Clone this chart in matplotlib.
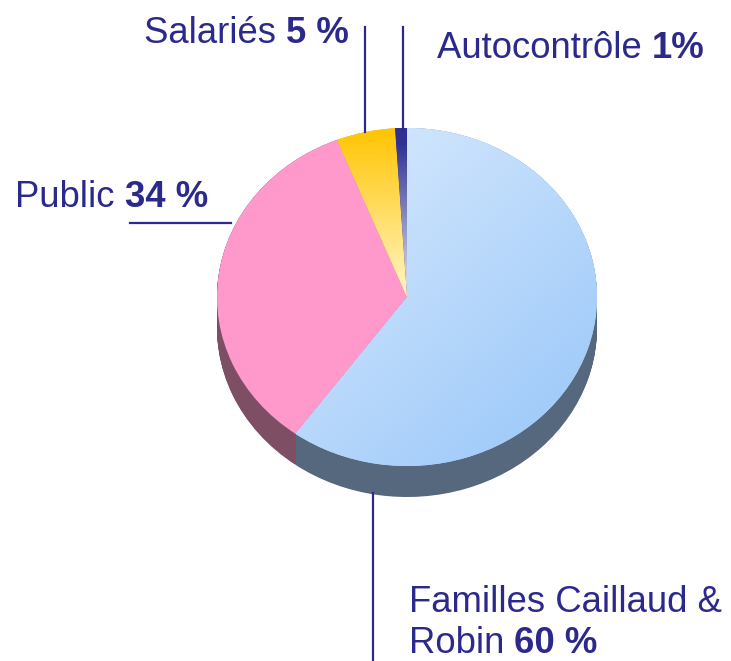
import numpy as np
import matplotlib.pyplot as plt
from matplotlib.colors import to_rgb

# Données
labels = ['Familles Caillaud & Robin', 'Public', 'Salariés', 'Autocontrôle']
values = [60, 34, 5, 1]
pct_text = ['60 %', '34 %', '5 %', '1%']

top_colors = ['#BEDCFB', '#FF99CC', '#FFD84A', '#2E3192']
side_colors = ['#55687E', '#7E4E64', '#B89A40', '#23256E']
navy = '#2B2A8C'

W, H = 731, 661
cx, cy, rx, ry, depth = 407, 297, 190, 169, 31

fig = plt.figure(figsize=(W / 100, H / 100), dpi=100)
ax = fig.add_axes([0, 0, 1, 1])

# Cote du camembert : empilement de disques plus sombres
for d in np.linspace(depth / ry, 0, 45):
    ax.pie(values, colors=side_colors, startangle=90, counterclock=False,
           center=(0, -d), wedgeprops=dict(linewidth=0, zorder=1))

# Dessus
wedges, _ = ax.pie(values, colors=top_colors, startangle=90, counterclock=False,
                   wedgeprops=dict(linewidth=0, zorder=3))

yy, xx = np.mgrid[-1:1:300j, -1:1:300j]


def mix(c0, c1, t):
    c0 = np.array(to_rgb(c0))
    c1 = np.array(to_rgb(c1))
    t = np.clip(t, 0, 1)[..., None]
    return c0 + (c1 - c0) * t


def gradient(w, img):
    im = ax.imshow(img, extent=(-1, 1, -1, 1), origin='lower', aspect='auto',
                   interpolation='bilinear', zorder=4)
    im.set_clip_path(w)


gradient(wedges[0], mix('#E2EFFE', '#97C6F9', (xx - yy + 2) / 4))
gradient(wedges[2], mix('#FFF6C8', '#FFC400', yy))
gradient(wedges[3], mix('#E8E8F4', '#2E3192', yy * 1.1))

ax.set_aspect('auto')
ax.set_xlim(-cx / rx, (W - cx) / rx)
ax.set_ylim(-(H - cy) / ry, cy / ry)
ax.axis('off')

# Etiquettes
lab = fig.add_axes([0, 0, 1, 1])
lab.set_xlim(0, W)
lab.set_ylim(H, 0)
lab.axis('off')
lab.patch.set_alpha(0)

fs = 26.3
fam = 'Liberation Sans'


def label(x, y, reg, bold):
    t = lab.text(x, y, reg, fontsize=fs, color=navy, va='baseline', ha='left', family=fam)
    if bold:
        lab.annotate(bold, xy=(1, 0), xycoords=t, fontsize=fs, color=navy,
                     fontweight='bold', va='bottom', ha='left', family=fam)


label(144, 43, labels[2] + ' ', pct_text[2])
label(437, 58, labels[3] + ' ', pct_text[3])
label(15, 207, labels[1] + ' ', pct_text[1])
label(409, 612, 'Familles Caillaud &', '')
label(409, 653, 'Robin ', pct_text[0])

lw = 1.6
lab.plot([365, 365], [27, 132], color=navy, lw=lw)
lab.plot([403, 403], [27, 130], color=navy, lw=lw)
lab.plot([130, 231], [223, 223], color=navy, lw=lw)
lab.plot([373, 373], [493, 661], color=navy, lw=lw)

fig.savefig('out.png', dpi=100)
